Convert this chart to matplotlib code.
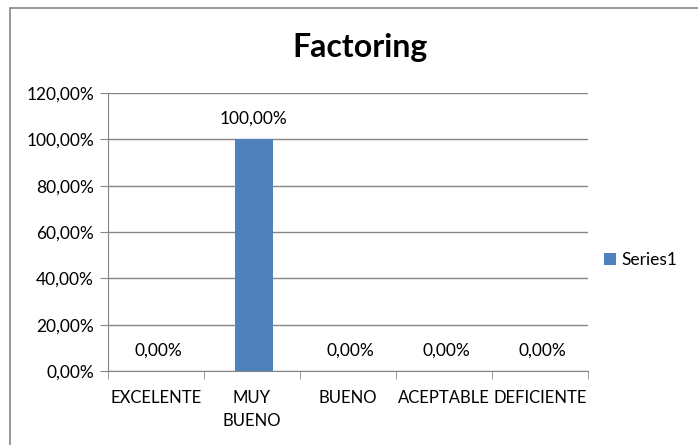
import numpy as np
import matplotlib.pyplot as plt
from matplotlib.patches import Rectangle
from matplotlib.ticker import FuncFormatter

plt.rcParams['font.family'] = ['Lato', 'DejaVu Sans']

categories = ['EXCELENTE', 'MUY\nBUENO', 'BUENO', 'ACEPTABLE', 'DEFICIENTE']
values = [0.0, 1.0, 0.0, 0.0, 0.0]
series_name = 'Series1'
title = 'Factoring'

fig = plt.figure(figsize=(6.98, 4.45), dpi=100)

# outer chart frame
fig.patches.append(Rectangle((10 / 698, -0.1), 1.1, 1.1 - 8 / 445,
                             transform=fig.transFigure, fill=False,
                             edgecolor='#868686', linewidth=1.2))

ax = fig.add_axes([108 / 698, 1 - 371 / 445, 480 / 698, 278 / 445])
x = np.arange(len(categories))
bars = ax.bar(x + 0.02, values, width=0.39, color='#4F81BD', label=series_name, zorder=3)

ax.set_xlim(-0.5, len(categories) - 0.5)
ax.set_ylim(0, 1.2)
ax.set_yticks(np.arange(0, 1.21, 0.2))
fmt = lambda v: ('%.2f%%' % (v * 100)).replace('.', ',')
ax.yaxis.set_major_formatter(FuncFormatter(lambda v, p: fmt(v)))
ax.grid(axis='y', color='#868686', linewidth=1)
ax.set_axisbelow(True)

ax.set_xticks(x)
ax.set_xticklabels(categories, linespacing=1.5)
ax.set_xticks(np.arange(-0.5, len(categories), 1), minor=True)
ax.tick_params(axis='x', which='major', length=0, pad=14, labelsize=12)
ax.tick_params(axis='x', which='minor', length=6, color='#868686')
ax.tick_params(axis='y', length=6, color='#868686', labelsize=12.5, pad=4)

for s in ['top', 'right']:
    ax.spines[s].set_visible(False)
for s in ['left', 'bottom']:
    ax.spines[s].set_color('#868686')

for b, v in zip(bars, values):
    ax.annotate(fmt(v), (b.get_x() + b.get_width() / 2, v),
                xytext=(0, 9), textcoords='offset points',
                ha='center', va='bottom', fontsize=12.5)

fig.text(360 / 698, 1 - 47 / 445, title, ha='center', va='center',
         fontsize=23, fontweight='bold')

fig.legend(handles=[bars], labels=[series_name], loc='center left',
           bbox_to_anchor=(588 / 698, 1 - 260 / 445), frameon=False,
           fontsize=12.5, handlelength=0.7, handleheight=0.7, handletextpad=0.3)

fig.savefig('out.png', dpi=100)
